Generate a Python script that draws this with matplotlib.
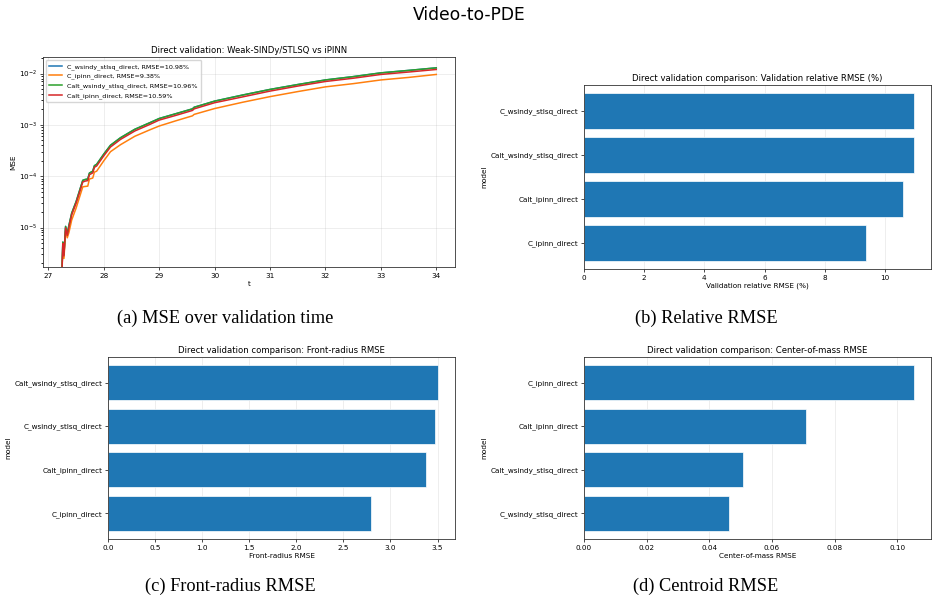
import matplotlib
matplotlib.use('Agg')
import matplotlib.pyplot as plt
import numpy as np

# ---- data ----
t = [27.24, 27.26, 27.28, 27.31, 27.34, 27.37, 27.42, 27.5, 27.62, 27.66, 27.71,
     27.74, 27.8, 27.83, 27.87, 28.0, 28.12, 28.3, 28.56, 28.83, 29.0, 29.3, 29.6,
     29.63, 30.0, 30.5, 31.0, 31.5, 32.0, 32.5, 33.0, 33.5, 34.0]

mse_c_wsindy = [1.0e-6, 5.2e-6, 3.0e-6, 1.05e-5, 7.5e-6, 1.1e-5, 1.9e-5, 3.2e-5, 8.3e-5, 8.6e-5, 8.8e-5,
                1.15e-4, 1.25e-4, 1.6e-4, 1.7e-4, 2.7e-4, 4.0e-4, 5.6e-4, 8.2e-4, 1.1e-3, 1.33e-3, 1.65e-3, 2.05e-3,
                2.2e-3, 2.9e-3, 3.8e-3, 4.9e-3, 6.1e-3, 7.5e-3, 8.7e-3, 1.03e-2, 1.15e-2, 1.29e-2]
mse_c_ipinn = [1.0e-6, 4.0e-6, 2.5e-6, 8.5e-6, 6.3e-6, 8.0e-6, 1.4e-5, 2.4e-5, 6.2e-5, 6.3e-5, 6.4e-5,
               8.8e-5, 9.2e-5, 1.2e-4, 1.25e-4, 2.0e-4, 3.0e-4, 4.1e-4, 6.0e-4, 8.0e-4, 9.5e-4, 1.2e-3, 1.5e-3,
               1.6e-3, 2.08e-3, 2.75e-3, 3.55e-3, 4.45e-3, 5.5e-3, 6.35e-3, 7.5e-3, 8.4e-3, 9.6e-3]
mse_calt_wsindy = [1.0e-6, 5.2e-6, 3.0e-6, 1.05e-5, 7.5e-6, 1.1e-5, 1.9e-5, 3.2e-5, 8.3e-5, 8.6e-5, 8.8e-5,
                   1.15e-4, 1.25e-4, 1.6e-4, 1.7e-4, 2.7e-4, 4.0e-4, 5.6e-4, 8.2e-4, 1.1e-3, 1.33e-3, 1.65e-3, 2.05e-3,
                   2.2e-3, 2.9e-3, 3.8e-3, 4.9e-3, 6.1e-3, 7.5e-3, 8.7e-3, 1.03e-2, 1.15e-2, 1.29e-2]
mse_calt_ipinn = [1.0e-6, 4.9e-6, 2.8e-6, 9.8e-6, 7.0e-6, 1.02e-5, 1.77e-5, 3.0e-5, 7.7e-5, 8.0e-5, 8.2e-5,
                  1.07e-4, 1.16e-4, 1.49e-4, 1.58e-4, 2.5e-4, 3.7e-4, 5.2e-4, 7.6e-4, 1.02e-3, 1.24e-3, 1.53e-3, 1.91e-3,
                  2.05e-3, 2.7e-3, 3.5e-3, 4.55e-3, 5.7e-3, 7.0e-3, 8.1e-3, 9.6e-3, 1.07e-2, 1.2e-2]

line_labels = ["C_wsindy_stlsq_direct, RMSE=10.98%", "C_ipinn_direct, RMSE=9.38%",
               "Calt_wsindy_stlsq_direct, RMSE=10.96%", "Calt_ipinn_direct, RMSE=10.59%"]

# bar panels, listed top -> bottom
rel_models = ["C_wsindy_stlsq_direct", "Calt_wsindy_stlsq_direct", "Calt_ipinn_direct", "C_ipinn_direct"]
rel_rmse = [10.98, 10.96, 10.59, 9.38]

front_models = ["Calt_wsindy_stlsq_direct", "C_wsindy_stlsq_direct", "Calt_ipinn_direct", "C_ipinn_direct"]
front_rmse = [3.51, 3.475, 3.375, 2.79]

com_models = ["C_ipinn_direct", "Calt_ipinn_direct", "Calt_wsindy_stlsq_direct", "C_wsindy_stlsq_direct"]
com_rmse = [0.1055, 0.0710, 0.0507, 0.0464]

W, H = 938, 603
TITLE_FS = 6.1
FS = 5.2

plt.rcParams['axes.linewidth'] = 0.6
plt.rcParams['axes.edgecolor'] = '#333333'
plt.rcParams['xtick.major.size'] = 2
plt.rcParams['ytick.major.size'] = 2
plt.rcParams['xtick.major.width'] = 0.5
plt.rcParams['ytick.major.width'] = 0.5
plt.rcParams['xtick.minor.size'] = 1.2
plt.rcParams['ytick.minor.size'] = 1.2
plt.rcParams['xtick.major.pad'] = 2
plt.rcParams['ytick.major.pad'] = 2

fig = plt.figure(figsize=(W / 100, H / 100), dpi=100)


def px_axes(left, top, right, bottom):
    return fig.add_axes([left / W, 1 - bottom / H, (right - left) / W, (bottom - top) / H])


# (a) line chart
ax = px_axes(43, 57, 455, 267)
for series, lab in zip([mse_c_wsindy, mse_c_ipinn, mse_calt_wsindy, mse_calt_ipinn], line_labels):
    ax.plot(t, series, lw=1.1, label=lab)
ax.set_yscale('log')
ax.set_ylim(1.7e-6, 2.1e-2)
ax.set_title("Direct validation: Weak-SINDy/STLSQ vs iPINN", fontsize=TITLE_FS, pad=3)
ax.set_xlabel("t", fontsize=FS, labelpad=1.5)
ax.set_ylabel("MSE", fontsize=FS, labelpad=2)
ax.tick_params(labelsize=FS)
ax.grid(True, alpha=0.3, lw=0.5)
ax.legend(fontsize=4.6, loc='upper left', handlelength=2.0, borderpad=0.5, labelspacing=0.55, framealpha=0.8)


def bar_panel(ax, models, vals, title, xlabel):
    y = np.arange(len(models))[::-1]
    ax.barh(y, vals, color='#1f77b4', edgecolor='white', linewidth=0.5)
    ax.set_yticks(y)
    ax.set_yticklabels(models)
    ax.set_title(title, fontsize=TITLE_FS, pad=3)
    ax.set_xlabel(xlabel, fontsize=FS, labelpad=1.5)
    ax.set_ylabel("model", fontsize=FS, labelpad=2)
    ax.tick_params(labelsize=FS)
    ax.grid(True, axis='x', alpha=0.3, lw=0.5)
    ax.set_axisbelow(True)


bar_panel(px_axes(584, 85, 931, 269), rel_models, rel_rmse,
          "Direct validation comparison: Validation relative RMSE (%)", "Validation relative RMSE (%)")
bar_panel(px_axes(108, 357, 455, 539), front_models, front_rmse,
          "Direct validation comparison: Front-radius RMSE", "Front-radius RMSE")
bar_panel(px_axes(584, 357, 931, 539), com_models, com_rmse,
          "Direct validation comparison: Center-of-mass RMSE", "Center-of-mass RMSE")

# captions and super title
fig.text(0.5, 1 - 15 / H, "Video-to-PDE", ha='center', va='center', fontsize=12.3)
cap = dict(ha='center', va='center', fontsize=13.2, family='Liberation Serif')
fig.text(225 / W, 1 - 318 / H, "(a) MSE over validation time", **cap)
fig.text(706 / W, 1 - 318 / H, "(b) Relative RMSE", **cap)
fig.text(230 / W, 1 - 586 / H, "(c) Front-radius RMSE", **cap)
fig.text(706 / W, 1 - 586 / H, "(d) Centroid RMSE", **cap)

fig.savefig("out.png", dpi=100)
